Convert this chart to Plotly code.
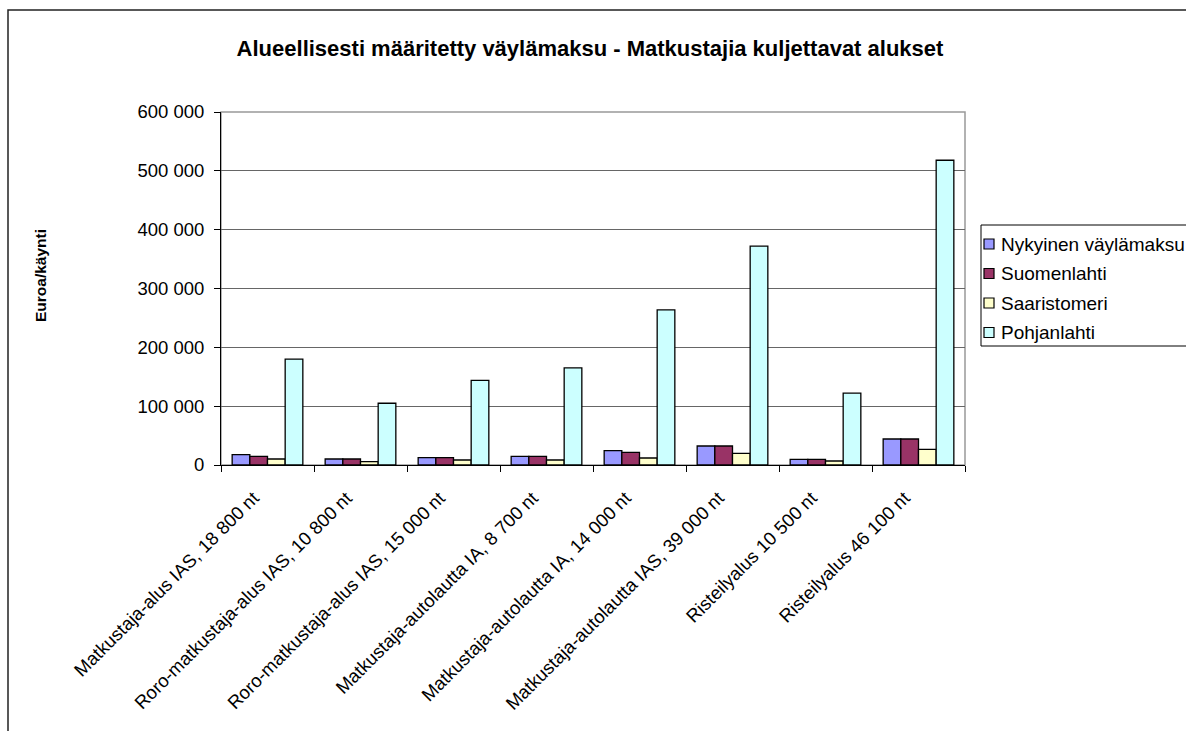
import plotly.graph_objects as go

categories = [
    "Matkustaja-alus IAS, 18 800 nt",
    "Roro-matkustaja-alus IAS, 10 800 nt",
    "Roro-matkustaja-alus IAS, 15 000 nt",
    "Matkustaja-autolautta IA, 8 700 nt",
    "Matkustaja-autolautta IA, 14 000 nt",
    "Matkustaja-autolautta IAS, 39 000 nt",
    "Risteilyalus 10 500 nt",
    "Risteilyalus 46 100 nt",
]
nykyinen = [17600, 10200, 12500, 14700, 24300, 32300, 9700, 44200]
suomenlahti = [14700, 10200, 12500, 14700, 21600, 32300, 9700, 44200]
saaristomeri = [10200, 5600, 8500, 8500, 11900, 19800, 6800, 26700]
pohjanlahti = [180000, 105000, 144000, 165000, 263500, 372000, 122000, 518000]

series_names = ["Nykyinen väylämaksu", "Suomenlahti", "Saaristomeri", "Pohjanlahti"]
series_values = [nykyinen, suomenlahti, saaristomeri, pohjanlahti]
series_colors = ["#9999FF", "#993366", "#FFFFCC", "#CCFFFF"]

y_tickvals = [0, 100000, 200000, 300000, 400000, 500000, 600000]
y_ticktext = ["0", "100 000", "200 000", "300 000", "400 000", "500 000", "600 000"]

W, H = 1186, 731
L, R, T, B = 221, 965, 112, 465
pw = R - L
ph = B - T


def px_x(x):
    return (x - L) / pw


def px_y(y):
    return (B - y) / ph


FONT = "Liberation Sans, Arial"

fig = go.Figure()
for name, vals, col in zip(series_names, series_values, series_colors):
    fig.add_trace(go.Bar(
        x=categories, y=vals, name=name,
        marker=dict(color=col, line=dict(color="#000000", width=1.3)),
        showlegend=False,
    ))

shapes = [
    dict(type="rect", xref="paper", yref="paper", x0=0, x1=1, y0=0, y1=1,
         line=dict(color="#999999", width=1.5), layer="below"),
    dict(type="rect", xref="paper", yref="paper",
         x0=px_x(8), x1=px_x(W + 50), y0=px_y(H + 50), y1=px_y(10),
         line=dict(color="#222222", width=1.5)),
    # legend box
    dict(type="rect", xref="paper", yref="paper",
         x0=px_x(981), x1=px_x(W + 40), y0=px_y(346), y1=px_y(225),
         line=dict(color="#000000", width=1), fillcolor="white"),
]
annotations = [dict(
    text="<b>Euroa/käynti</b>", textangle=-90,
    xref="paper", yref="paper",
    x=px_x(40), y=px_y(276),
    xanchor="center", yanchor="middle", showarrow=False,
    font=dict(size=15.5, family=FONT),
)]

leg_y = [244, 273.5, 303, 332.5]
for name, col, yy in zip(series_names, series_colors, leg_y):
    shapes.append(dict(type="rect", xref="paper", yref="paper",
                       x0=px_x(984), x1=px_x(994), y0=px_y(yy + 5), y1=px_y(yy - 5),
                       line=dict(color="#000000", width=1.2), fillcolor=col))
    annotations.append(dict(text=name, xref="paper", yref="paper",
                            x=px_x(999), y=px_y(yy), xanchor="left", yanchor="middle",
                            showarrow=False, font=dict(size=19, family=FONT)))

fig.update_layout(
    width=W, height=H,
    margin=dict(l=L, r=W - R, t=T, b=H - B, autoexpand=False),
    paper_bgcolor="white", plot_bgcolor="white",
    barmode="group", bargap=0.24, bargroupgap=0,
    font=dict(family=FONT, size=19, color="#000000"),
    title=dict(
        text="<b>Alueellisesti määritetty väylämaksu - Matkustajia kuljettavat alukset</b>",
        x=590 / W, xanchor="center", y=1 - 48 / H, yanchor="middle",
        font=dict(size=22, family=FONT),
    ),
    showlegend=False,
    xaxis=dict(
        type="category", tickangle=-45, tickson="boundaries",
        ticks="outside", ticklen=6, tickcolor="#000000",
        showline=True, linecolor="#000000", linewidth=1,
        showgrid=False, tickfont=dict(size=18.5, family=FONT),
        ticklabelstandoff=14, ticklabelshift=-14,
    ),
    yaxis=dict(
        range=[0, 600000], tickvals=y_tickvals, ticktext=y_ticktext,
        ticks="outside", ticklen=6, tickcolor="#000000",
        showline=True, linecolor="#000000", linewidth=1,
        showgrid=True, gridcolor="#666666", gridwidth=1,
        tickfont=dict(size=18.5, family=FONT), zeroline=False,
        ticklabelstandoff=6,
    ),
    annotations=annotations,
    shapes=shapes,
)

fig.write_html(
    "out.html",
    config={"displayModeBar": False},
    post_script="document.body.style.margin='0';document.body.style.overflow='hidden';",
)
